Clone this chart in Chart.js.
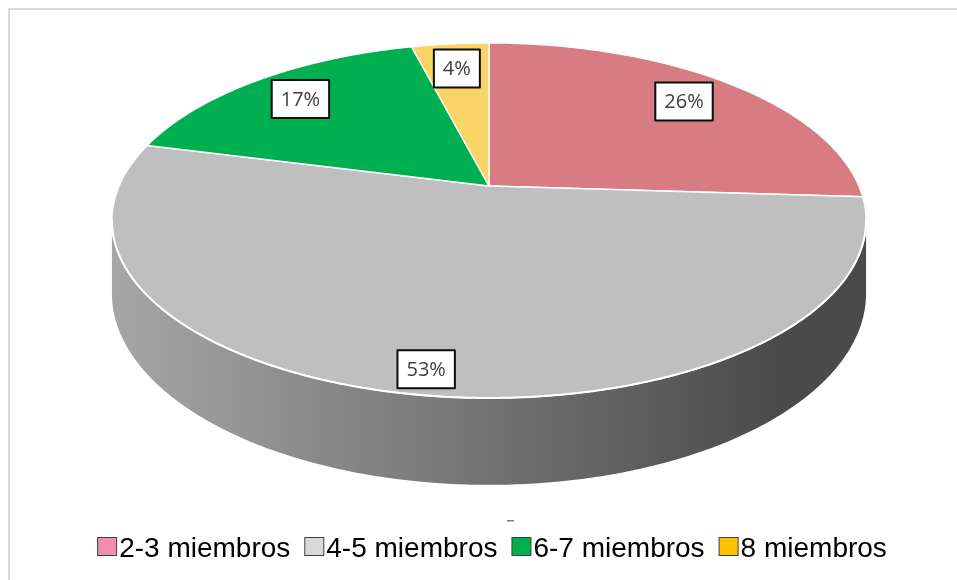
<!DOCTYPE html>
<html>
<head>
<meta charset="utf-8">
<style>
html, body { margin: 0; padding: 0; background: #fff; }
#wrap { position: relative; width: 957px; height: 580px; overflow: hidden; }
#frame { position: absolute; left: 8px; top: 8px; width: 980px; height: 600px; border-left: 2px solid #d9d9d9; border-top: 2px solid #d9d9d9; }
canvas { position: absolute; left: 0; top: 0; }
</style>
<script src="https://cdn.jsdelivr.net/npm/chart.js@4.4.0/dist/chart.umd.min.js"></script>
</head>
<body>
<div id="wrap"><div id="frame"></div><canvas id="pieChart" width="957" height="580"></canvas></div>
<script>
var labels = ['2-3 miembros', '4-5 miembros', '6-7 miembros', '8 miembros'];
var values = [26, 53, 17, 4];
var sliceColors = ['#d87c84', '#bfbfbf', '#00b050', '#fad466'];
var legendColors = ['#f28cb1', '#d9d9d9', '#00b050', '#ffc000'];

// perspective of the tilted pie
var tilt = -0.194;
var stretchX = 2.176, stretchY = 1.005, depth = 0.412;

function project(a, el, r, z) {
    var x = r * Math.cos(a), y = r * Math.sin(a);
    var w = 1 / (1 + tilt * y);
    var R = el.outerRadius;
    return [el.x + R * stretchX * x * w, el.y + R * stretchY * y * w + z * R * depth * w];
}

function shade(hex, f) {
    var n = parseInt(hex.slice(1), 16);
    var r = Math.round(((n >> 16) & 255) * f), g = Math.round(((n >> 8) & 255) * f), b = Math.round((n & 255) * f);
    return 'rgb(' + r + ',' + g + ',' + b + ')';
}

function arcPoints(el, a0, a1, r, z) {
    var pts = [];
    var steps = Math.max(2, Math.ceil((a1 - a0) / 0.01));
    for (var i = 0; i <= steps; i++) {
        pts.push(project(a0 + (a1 - a0) * i / steps, el, r, z));
    }
    return pts;
}

var pie3d = {
    id: 'pie3d',
    beforeDatasetsDraw: function(chart) {
        var ctx = chart.ctx;
        var meta = chart.getDatasetMeta(0);
        var first = meta.data[0];
        var aR = Math.asin(-tilt), aL = Math.PI - aR;
        var xl = project(aL, first, 1, 0)[0], xr = project(aR, first, 1, 0)[0];

        ctx.save();
        // side walls (front half only)
        meta.data.forEach(function(el, i) {
            [-2 * Math.PI, 0, 2 * Math.PI].forEach(function(off) {
                var lo = Math.max(el.startAngle, aR + off), hi = Math.min(el.endAngle, aL + off);
                if (hi <= lo) return;
                var top = arcPoints(el, lo, hi, 1, 0), bottom = arcPoints(el, lo, hi, 1, 1).reverse();
                var grad = ctx.createLinearGradient(xl, 0, xr, 0);
                grad.addColorStop(0, shade(sliceColors[i], 0.87));
                grad.addColorStop(0.89, shade(sliceColors[i], 0.39));
                grad.addColorStop(1, shade(sliceColors[i], 0.39));
                ctx.beginPath();
                top.concat(bottom).forEach(function(p, j) { j ? ctx.lineTo(p[0], p[1]) : ctx.moveTo(p[0], p[1]); });
                ctx.closePath();
                ctx.fillStyle = grad;
                ctx.fill();
            });
        });

        // top face
        meta.data.forEach(function(el, i) {
            var pts = arcPoints(el, el.startAngle, el.endAngle, 1, 0);
            ctx.beginPath();
            ctx.moveTo(el.x, el.y);
            pts.forEach(function(p) { ctx.lineTo(p[0], p[1]); });
            ctx.closePath();
            ctx.fillStyle = sliceColors[i];
            ctx.fill();
            ctx.lineWidth = 1.5;
            ctx.lineJoin = 'round';
            ctx.strokeStyle = '#ffffff';
            ctx.stroke();
        });

        // white rim along the front edge
        ctx.beginPath();
        arcPoints(first, aR, aL, 1, 0).forEach(function(p, j) { j ? ctx.lineTo(p[0], p[1]) : ctx.moveTo(p[0], p[1]); });
        ctx.lineWidth = 2;
        ctx.strokeStyle = '#ffffff';
        ctx.stroke();

        // data labels
        var total = values.reduce(function(s, v) { return s + v; }, 0);
        ctx.font = '20px "Open Sans"';
        ctx.textAlign = 'center';
        ctx.textBaseline = 'middle';
        meta.data.forEach(function(el, i) {
            var mid = (el.startAngle + el.endAngle) / 2;
            var r = 0.8 + 0.1 * Math.max(0, Math.sin(mid));
            var p = project(mid, el, r, 0);
            var txt = Math.round(values[i] / total * 100) + '%';
            var w = ctx.measureText(txt).width + 18, h = 38;
            ctx.fillStyle = '#ffffff';
            ctx.fillRect(p[0] - w / 2, p[1] - h / 2, w, h);
            ctx.lineWidth = 2;
            ctx.strokeStyle = '#0d0d0d';
            ctx.strokeRect(p[0] - w / 2, p[1] - h / 2, w, h);
            ctx.fillStyle = '#404040';
            ctx.fillText(txt, p[0], p[1] + 1);
        });
        ctx.restore();
        return false;
    },
    afterDraw: function(chart) {
        var ctx = chart.ctx;
        ctx.save();
        // empty title mark
        ctx.fillStyle = '#7f7f7f';
        ctx.fillRect(507, 520, 7, 1.5);

        // legend
        ctx.font = '28px "Liberation Sans", Arial';
        ctx.textAlign = 'left';
        ctx.textBaseline = 'alphabetic';
        var box = 20, gapText = 2, gapItem = 14;
        var widths = chart.data.labels.map(function(l) { return box + gapText + ctx.measureText(l).width; });
        var totalW = widths.reduce(function(s, v) { return s + v; }, 0) + gapItem * (widths.length - 1);
        var x = 492 - totalW / 2;
        chart.data.labels.forEach(function(l, i) {
            ctx.fillStyle = legendColors[i];
            ctx.fillRect(x + 0.5, 537.5, box - 1, 18);
            ctx.lineWidth = 1;
            ctx.strokeStyle = '#3f3f3f';
            ctx.strokeRect(x + 0.5, 537.5, box - 1, 18);
            ctx.fillStyle = '#000000';
            ctx.fillText(l, x + box + gapText, 557);
            x += widths[i] + gapItem;
        });
        ctx.restore();
    }
};

var pieChart = new Chart(document.getElementById('pieChart').getContext('2d'), {
    type: 'pie',
    data: {
        labels: labels,
        datasets: [{
            data: values,
            backgroundColor: sliceColors,
            borderWidth: 0
        }]
    },
    options: {
        responsive: false,
        animation: false,
        layout: { padding: { left: 140, right: 119, top: 16, bottom: 224 } },
        plugins: {
            legend: { display: false },
            tooltip: { enabled: false }
        }
    },
    plugins: [pie3d]
});
</script>
</body>
</html>
